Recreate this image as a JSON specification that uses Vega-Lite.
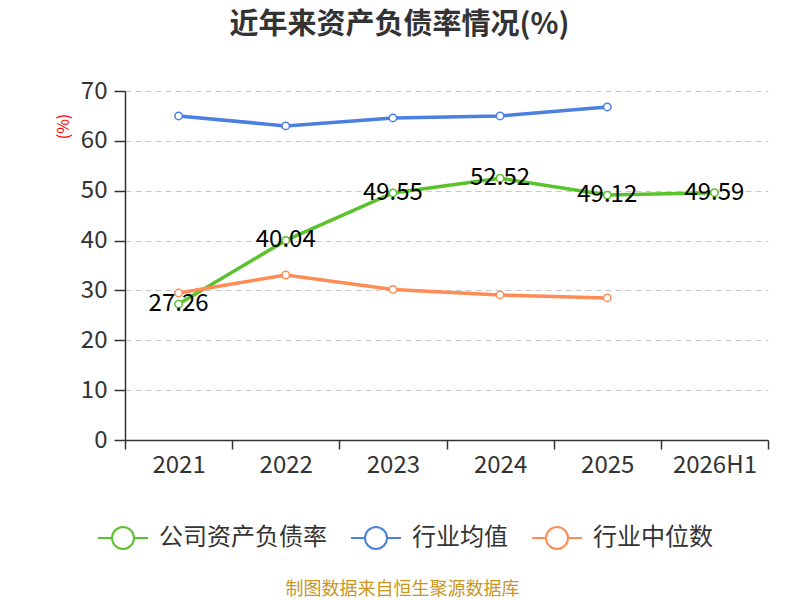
{
  "$schema": "https://vega.github.io/schema/vega-lite/v6.json",
  "autosize": {"type": "none"},
  "width": 643,
  "height": 349,
  "padding": {"left": 125, "top": 91, "right": 32, "bottom": 160},
  "background": "white",
  "config": {
    "font": "Noto Sans CJK SC",
    "view": {"stroke": null}
  },
  "title": {
    "text": "近年来资产负债率情况(%)",
    "fontSize": 29,
    "fontWeight": "bold",
    "color": "#333333",
    "anchor": "middle",
    "dx": -47,
    "offset": 39
  },
  "data": {
    "values": [
      {"year": "2021", "series": "公司资产负债率", "value": 27.26},
      {"year": "2022", "series": "公司资产负债率", "value": 40.04},
      {"year": "2023", "series": "公司资产负债率", "value": 49.55},
      {"year": "2024", "series": "公司资产负债率", "value": 52.52},
      {"year": "2025", "series": "公司资产负债率", "value": 49.12},
      {"year": "2026H1", "series": "公司资产负债率", "value": 49.59},
      {"year": "2021", "series": "行业均值", "value": 65.0},
      {"year": "2022", "series": "行业均值", "value": 63.0},
      {"year": "2023", "series": "行业均值", "value": 64.6},
      {"year": "2024", "series": "行业均值", "value": 65.0},
      {"year": "2025", "series": "行业均值", "value": 66.8},
      {"year": "2021", "series": "行业中位数", "value": 29.5},
      {"year": "2022", "series": "行业中位数", "value": 33.1},
      {"year": "2023", "series": "行业中位数", "value": 30.2},
      {"year": "2024", "series": "行业中位数", "value": 29.1},
      {"year": "2025", "series": "行业中位数", "value": 28.5}
    ]
  },
  "encoding": {
    "x": {
      "field": "year",
      "type": "ordinal",
      "bandPosition": 0.5,
      "scale": {"type": "band", "paddingInner": 0, "paddingOuter": 0},
      "axis": {
        "title": "制图数据来自恒生聚源数据库",
        "titleColor": "#c8961e",
        "titleFontSize": 18,
        "titleFontWeight": "normal",
        "titleX": 277,
        "titleY": 149,
        "titleAlign": "center",
        "titleBaseline": "middle",
        "labelAngle": 0,
        "labelFontSize": 24,
        "labelColor": "#333333",
        "labelPadding": 4,
        "tickBand": "extent",
        "tickSize": 9,
        "tickColor": "#333333",
        "tickWidth": 1.5,
        "domainColor": "#333333",
        "domainWidth": 1.5,
        "grid": false
      }
    },
    "y": {
      "field": "value",
      "type": "quantitative",
      "scale": {"domain": [0, 70]},
      "axis": {
        "title": "(%)",
        "titleColor": "#ff0000",
        "titleFontSize": 16,
        "titleFontWeight": "normal",
        "titleX": -62,
        "titleY": 35,
        "titleAlign": "center",
        "titleBaseline": "middle",
        "values": [0, 10, 20, 30, 40, 50, 60, 70],
        "labelFontSize": 24,
        "labelColor": "#333333",
        "labelPadding": 7,
        "tickSize": 11,
        "tickColor": "#333333",
        "tickWidth": 1.5,
        "domainColor": "#333333",
        "domainWidth": 1.5,
        "grid": true,
        "gridColor": "#c8c8c8",
        "gridDash": [6, 4],
        "gridWidth": 1.2
      }
    },
    "color": {
      "field": "series",
      "type": "nominal",
      "scale": {
        "domain": ["公司资产负债率", "行业均值", "行业中位数"],
        "range": ["#5ac22a", "#4b7fe0", "#ff8c55"]
      },
      "legend": {
        "title": null,
        "orient": "none",
        "direction": "horizontal",
        "legendX": -28,
        "legendY": 421,
        "symbolType": "M-1,0L-0.44,0M0.44,0A0.44,0.44,0,1,1,-0.44,0A0.44,0.44,0,1,1,0.44,0M0.44,0L1,0",
        "symbolSize": 2500,
        "symbolStrokeWidth": 2,
        "symbolFillColor": "white",
        "labelFontSize": 24,
        "labelColor": "#333333",
        "labelLimit": 400,
        "labelOffset": 10,
        "columnPadding": 20
      }
    }
  },
  "layer": [
    {
      "mark": {"type": "line", "strokeWidth": 3.5}
    },
    {
      "mark": {"type": "point", "shape": "circle", "filled": false, "fill": "white", "size": 55, "strokeWidth": 1.5, "opacity": 1}
    },
    {
      "transform": [{"filter": "datum.series === '公司资产负债率'"}],
      "mark": {"type": "text", "fontSize": 24, "baseline": "middle", "align": "center"},
      "encoding": {
        "text": {"field": "value", "type": "quantitative", "format": ".2f"},
        "color": {"value": "#000000"}
      }
    }
  ]
}
